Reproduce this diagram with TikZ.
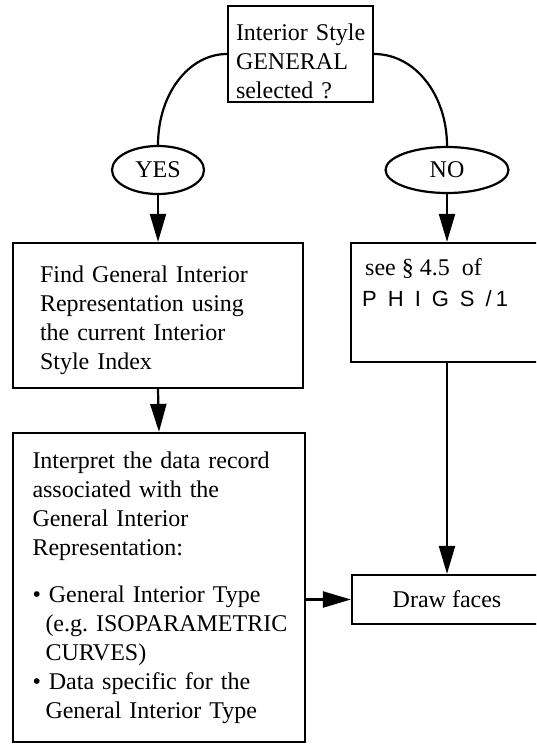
\documentclass[tikz,border=0pt]{standalone}
\usepackage{fontspec}
\setmainfont{Liberation Serif}
\newfontfamily\phigsfont[LetterSpace=50]{Liberation Sans}
\usetikzlibrary{arrows.meta,shapes.geometric}
\newcommand\Lline[1]{\makebox[0pt][l]{#1}}
\begin{document}
\begin{tikzpicture}[x=1pt,y=-1pt,
  box/.style={draw, rectangle, line width=2.2pt, inner ysep=0pt},
  txt/.style={font=\fontsize{24}{29}\selectfont, align=left},
  oval/.style={draw, ellipse, line width=2.2pt, inner sep=0pt, font=\fontsize{24}{29}\selectfont},
  arr/.style={line width=2.2pt, -{Triangle[length=28pt,width=16pt]}},
  conn/.style={line width=2.2pt}]
\useasboundingbox (0,0) rectangle (536,744);
\clip (0,0) rectangle (536,744);

\node[box, txt, minimum width=145pt, minimum height=96pt, text width=129pt, inner xsep=8pt]
  (top) at (300.5,54) {\Lline{\rule{0pt}{32pt}Interior Style}\\\Lline{GENERAL}\\\Lline{selected ?}};

\node[oval, minimum width=92pt, minimum height=48pt] (yes) at (158,170) {YES};
\node[oval, minimum width=123pt, minimum height=46pt] (no) at (447,170) {NO};

\node[box, txt, minimum width=290pt, minimum height=145pt, text width=236pt, inner xsep=27pt]
  (find) at (158,315.5) {\Lline{\rule{0pt}{27pt}Find General Interior}\\\Lline{Representation using}\\\Lline{the current Interior}\\\Lline{Style Index}};

\node[box, minimum width=192pt, minimum height=119pt] (see) at (447,302.5) {};
\node[txt, anchor=base west, inner sep=0pt] (seetxt) at (365,275) {see \S\ 4.5\ \ of};
\node[anchor=base west, inner sep=0pt, font=\phigsfont\fontsize{22}{26}\selectfont] (phigs) at (362,306) {PHIGS/\hspace{4pt}1};

\node[box, txt, minimum width=292pt, minimum height=309pt, text width=253pt, inner xsep=19.5pt]
  (interp) at (159,587.5) {\Lline{Interpret the data record}\\\Lline{associated with the}\\\Lline{General Interior}\\\Lline{Representation:}\\[18pt]
  \Lline{\textbullet\ General Interior Type}\\\Lline{\hspace*{13pt}(e.g.\ ISOPARAMETRIC}\\\Lline{\hspace*{13pt}CURVES)}\\
  \Lline{\textbullet\ Data specific for the}\\\Lline{\hspace*{13pt}General Interior Type}};

\node[box, txt, minimum width=190pt, minimum height=49pt] (faces) at (447,599.5) {Draw faces};

\draw[conn] (top.west) .. controls +(-38,0) and +(0,-51) .. (yes.north);
\draw[conn] (top.east) .. controls +(41,0) and +(0,-51) .. (no.north);
\draw[arr] (yes.south) -- (find.north);
\draw[arr] (no.south) -- (see.north);
\draw[arr] (find.south) -- (interp.north);
\draw[arr] (see.south) -- (faces.north);
\draw[arr] (interp.east |- faces.west) -- (faces.west);
\end{tikzpicture}
\end{document}
